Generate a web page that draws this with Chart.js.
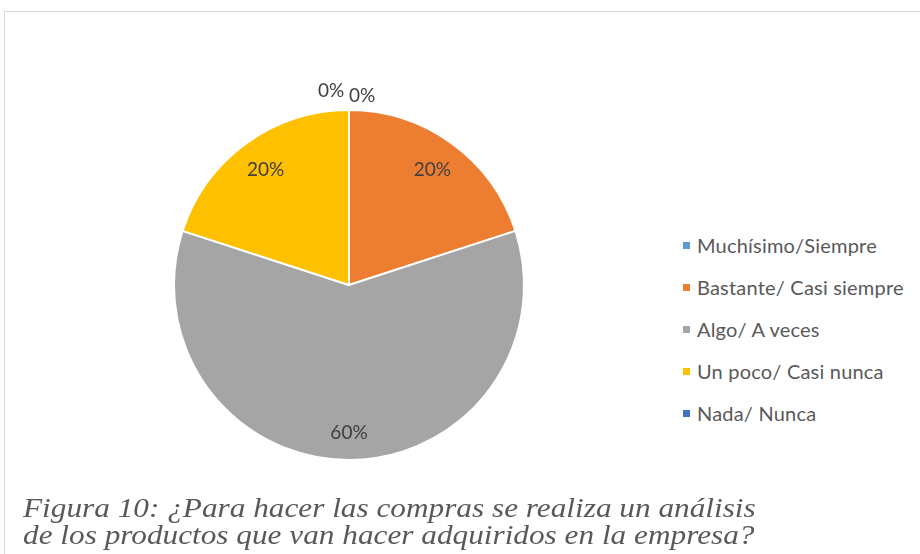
<!DOCTYPE html>
<html>
<head>
<meta charset="utf-8">
<script src="https://cdn.jsdelivr.net/npm/chart.js@4/dist/chart.umd.min.js"></script>
<style>
  html, body { margin: 0; padding: 0; background: #fff; }
  body { width: 920px; height: 554px; position: relative; overflow: hidden; }
  .frame {
    position: absolute; left: 4px; top: 11px; width: 1000px; height: 700px;
    border: 1px solid #d9d9d9; box-sizing: border-box;
  }
  #pie-wrap { position: absolute; left: 129px; top: 60px; width: 440px; height: 450px; }
  #legend { position: absolute; left: 683px; top: 224px; font-family: Lato, sans-serif; font-size: 20px; letter-spacing: 0.2px; color: #595959; }
  #legend .row { height: 42px; display: flex; align-items: center; white-space: nowrap; }
  #legend .sw { width: 7px; height: 7px; margin-right: 7px; flex: none; }
  .caption {
    position: absolute; left: 23px; top: 495px;
    font-family: "Liberation Serif", "Times New Roman", serif; font-style: italic;
    font-size: 27px; line-height: 27px; color: #595959; white-space: nowrap;
    transform: scaleX(1.158); transform-origin: left top;
  }
</style>
</head>
<body>
<div class="frame"></div>
<div id="pie-wrap"><canvas id="pie"></canvas></div>
<div id="legend"></div>
<div class="caption">Figura 10: ¿Para hacer las compras se realiza un análisis<br>de los productos que van hacer adquiridos en la empresa?</div>

<script>
// ── Data ─────────────────────────────────────────────────────────────────────
const CATEGORIES = ['Muchísimo/Siempre', 'Bastante/ Casi siempre', 'Algo/ A veces', 'Un poco/ Casi nunca', 'Nada/ Nunca'];
const VALUES     = [0, 20, 60, 20, 0];
const COLORS     = ['#5B9BD5', '#ED7D31', '#A5A5A5', '#FFC000', '#4472C4'];

// ── Legend (HTML) ────────────────────────────────────────────────────────────
document.getElementById('legend').innerHTML = CATEGORIES.map((c, i) =>
  `<div class="row"><span class="sw" style="background:${COLORS[i]}"></span>${c}</div>`
).join('');

// ── Percent labels ───────────────────────────────────────────────────────────
const pctLabels = {
  id: 'pctLabels',
  afterDatasetsDraw(chart) {
    const { ctx } = chart;
    const meta = chart.getDatasetMeta(0);
    const total = VALUES.reduce((a, b) => a + b, 0);
    ctx.save();
    ctx.font = '19px Lato, sans-serif';
    ctx.fillStyle = '#404040';
    ctx.textAlign = 'center';
    ctx.textBaseline = 'middle';
    meta.data.forEach((arc, i) => {
      const { x, y, startAngle, endAngle, outerRadius } = arc.getProps(['x', 'y', 'startAngle', 'endAngle', 'outerRadius'], true);
      const txt = Math.round(VALUES[i] / total * 100) + '%';
      const a = (startAngle + endAngle) / 2;
      let px, py;
      if (VALUES[i] === 0) {
        // zero slices sit at the top, nudged apart
        const r = outerRadius + (i === 0 ? 14 : 19);
        px = x + Math.cos(a) * r + (i === 0 ? 13 : -18);
        py = y + Math.sin(a) * r;
      } else {
        const r = outerRadius * (VALUES[i] > 50 ? 0.845 : 0.81);
        px = x + Math.cos(a) * r;
        py = y + Math.sin(a) * r;
      }
      ctx.fillText(txt, px, py);
    });
    ctx.restore();
  },
};

// ── Chart ────────────────────────────────────────────────────────────────────
new Chart(document.getElementById('pie').getContext('2d'), {
  type: 'pie',
  data: {
    labels: CATEGORIES,
    datasets: [{
      data: VALUES,
      backgroundColor: COLORS,
      borderColor: '#ffffff',
      borderWidth: 2,
    }],
  },
  options: {
    responsive: true,
    maintainAspectRatio: false,
    animation: false,
    events: [],
    layout: { padding: { top: 49, bottom: 49, left: 44, right: 44 } },
    plugins: {
      legend: { display: false },
      tooltip: { enabled: false },
    },
  },
  plugins: [pctLabels],
});
</script>
</body>
</html>
